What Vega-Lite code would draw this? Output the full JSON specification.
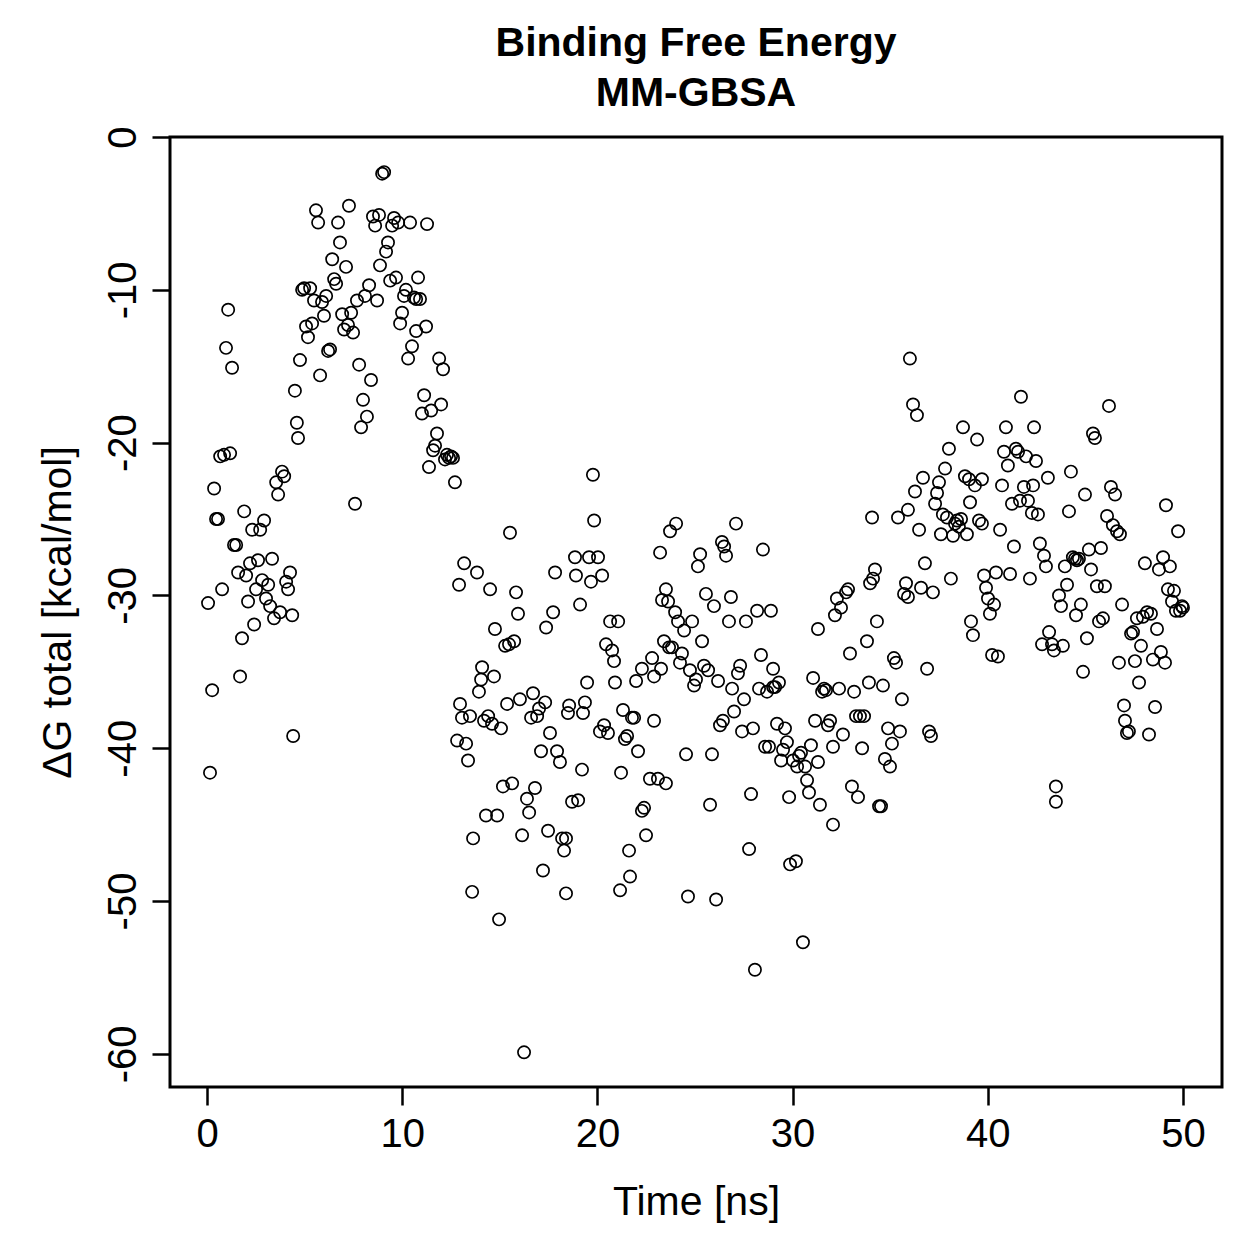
{
"$schema":"https://vega.github.io/schema/vega-lite/v6.json",
"width":1052,"height":950,
"autosize":{"type":"none"},
"padding":{"left":170,"top":137,"right":37,"bottom":172},
"background":"white",
"title":{"text":["Binding Free Energy","MM-GBSA"],"font":"Liberation Sans","fontSize":41,"fontWeight":"bold","color":"black","anchor":"middle","frame":"group","lineHeight":50,"offset":11},
"data":{"values":[
{"t":0.05,"g":-30.5},{"t":0.15,"g":-41.6},{"t":0.26,"g":-36.2},{"t":0.36,"g":-23.0},{"t":0.46,"g":-25.0},{"t":0.56,"g":-25.0},{"t":0.67,"g":-20.9},{"t":0.77,"g":-29.6},{"t":0.87,"g":-20.8},{"t":0.97,"g":-13.8},
{"t":1.08,"g":-11.3},{"t":1.18,"g":-20.7},{"t":1.28,"g":-15.1},{"t":1.38,"g":-26.7},{"t":1.49,"g":-26.7},{"t":1.59,"g":-28.5},{"t":1.69,"g":-35.3},{"t":1.79,"g":-32.8},{"t":1.90,"g":-24.5},{"t":2.00,"g":-28.7},
{"t":2.10,"g":-30.4},{"t":2.20,"g":-27.9},{"t":2.31,"g":-25.7},{"t":2.41,"g":-31.9},{"t":2.51,"g":-29.6},{"t":2.61,"g":-27.7},{"t":2.72,"g":-25.7},{"t":2.82,"g":-29.0},{"t":2.92,"g":-25.1},{"t":3.02,"g":-30.2},
{"t":3.13,"g":-29.3},{"t":3.23,"g":-30.7},{"t":3.33,"g":-27.6},{"t":3.43,"g":-31.5},{"t":3.54,"g":-22.6},{"t":3.64,"g":-23.4},{"t":3.74,"g":-31.1},{"t":3.84,"g":-21.9},{"t":3.95,"g":-22.2},{"t":4.05,"g":-29.1},
{"t":4.15,"g":-29.6},{"t":4.25,"g":-28.5},{"t":4.36,"g":-31.3},{"t":4.41,"g":-39.2},{"t":4.50,"g":-16.6},{"t":4.60,"g":-18.7},{"t":4.66,"g":-19.7},{"t":4.76,"g":-14.6},{"t":4.87,"g":-10.0},{"t":4.97,"g":-9.9},
{"t":5.07,"g":-12.4},{"t":5.17,"g":-13.1},{"t":5.28,"g":-9.9},{"t":5.38,"g":-12.2},{"t":5.48,"g":-10.7},{"t":5.58,"g":-4.8},{"t":5.69,"g":-5.6},{"t":5.79,"g":-15.6},{"t":5.89,"g":-10.8},{"t":5.99,"g":-11.7},
{"t":6.10,"g":-10.4},{"t":6.20,"g":-14.0},{"t":6.30,"g":-13.9},{"t":6.41,"g":-8.0},{"t":6.51,"g":-9.3},{"t":6.61,"g":-9.6},{"t":6.71,"g":-5.6},{"t":6.81,"g":-6.9},{"t":6.92,"g":-11.6},{"t":7.02,"g":-12.6},
{"t":7.12,"g":-8.5},{"t":7.22,"g":-12.3},{"t":7.27,"g":-4.5},{"t":7.38,"g":-11.5},{"t":7.48,"g":-12.8},{"t":7.58,"g":-24.0},{"t":7.68,"g":-10.7},{"t":7.79,"g":-14.9},{"t":7.89,"g":-19.0},{"t":7.99,"g":-17.2},
{"t":8.09,"g":-10.4},{"t":8.19,"g":-18.3},{"t":8.30,"g":-9.7},{"t":8.40,"g":-15.9},{"t":8.50,"g":-5.2},{"t":8.61,"g":-5.8},{"t":8.71,"g":-10.7},{"t":8.81,"g":-5.1},{"t":8.86,"g":-8.4},{"t":8.97,"g":-2.4},
{"t":9.07,"g":-2.3},{"t":9.17,"g":-7.5},{"t":9.27,"g":-6.9},{"t":9.38,"g":-9.4},{"t":9.48,"g":-5.8},{"t":9.58,"g":-5.3},{"t":9.68,"g":-9.2},{"t":9.79,"g":-5.6},{"t":9.89,"g":-12.2},{"t":9.99,"g":-11.5},
{"t":10.09,"g":-10.4},{"t":10.19,"g":-10.0},{"t":10.30,"g":-14.5},{"t":10.40,"g":-5.6},{"t":10.50,"g":-13.7},{"t":10.60,"g":-10.5},{"t":10.71,"g":-10.6},{"t":10.71,"g":-12.7},{"t":10.81,"g":-9.2},{"t":10.91,"g":-10.6},
{"t":11.01,"g":-18.1},{"t":11.12,"g":-16.9},{"t":11.22,"g":-12.4},{"t":11.27,"g":-5.7},{"t":11.37,"g":-21.6},{"t":11.48,"g":-17.9},{"t":11.58,"g":-20.5},{"t":11.68,"g":-20.2},{"t":11.78,"g":-19.4},{"t":11.89,"g":-14.5},
{"t":11.99,"g":-17.5},{"t":12.09,"g":-15.2},{"t":12.19,"g":-21.1},{"t":12.29,"g":-20.8},{"t":12.40,"g":-21.0},{"t":12.50,"g":-20.9},{"t":12.60,"g":-21.0},{"t":12.70,"g":-22.6},
{"t":12.81,"g":-39.5},{"t":12.91,"g":-29.3},{"t":12.96,"g":-37.1},{"t":13.06,"g":-38.0},{"t":13.17,"g":-27.9},{"t":13.27,"g":-39.7},{"t":13.37,"g":-40.8},{"t":13.63,"g":-45.9},{"t":13.58,"g":-49.4},{"t":13.47,"g":-37.9},
{"t":13.83,"g":-28.5},{"t":13.93,"g":-36.3},{"t":14.04,"g":-35.5},{"t":14.09,"g":-34.7},{"t":14.19,"g":-38.2},{"t":14.29,"g":-44.4},{"t":14.40,"g":-37.9},{"t":14.50,"g":-29.6},{"t":14.60,"g":-38.4},{"t":14.70,"g":-35.3},
{"t":14.75,"g":-32.2},{"t":14.86,"g":-44.4},{"t":14.96,"g":-51.2},{"t":15.06,"g":-38.7},{"t":15.16,"g":-42.5},{"t":15.27,"g":-33.3},{"t":15.47,"g":-33.2},{"t":15.37,"g":-37.1},{"t":15.52,"g":-25.9},{"t":15.63,"g":-42.3},
{"t":15.73,"g":-33.0},{"t":15.83,"g":-29.8},{"t":15.93,"g":-31.2},{"t":16.03,"g":-36.8},{"t":16.14,"g":-45.7},{"t":16.24,"g":-59.9},{"t":16.39,"g":-43.3},{"t":16.50,"g":-44.2},{"t":16.60,"g":-38.0},{"t":16.70,"g":-36.4},
{"t":16.80,"g":-42.6},{"t":16.91,"g":-37.9},{"t":17.01,"g":-37.4},{"t":17.11,"g":-40.2},{"t":17.21,"g":-48.0},{"t":17.32,"g":-37.0},{"t":17.37,"g":-32.1},{"t":17.47,"g":-45.4},{"t":17.57,"g":-39.0},{"t":17.73,"g":-31.1},
{"t":17.83,"g":-28.5},{"t":17.93,"g":-40.2},{"t":18.08,"g":-40.9},{"t":18.19,"g":-45.9},{"t":18.29,"g":-46.7},{"t":18.39,"g":-45.9},{"t":18.39,"g":-49.5},{"t":18.49,"g":-37.7},{"t":18.55,"g":-37.2},{"t":18.70,"g":-43.5},
{"t":18.85,"g":-27.5},{"t":18.90,"g":-28.7},{"t":19.01,"g":-43.4},{"t":19.11,"g":-30.6},{"t":19.26,"g":-37.7},{"t":19.36,"g":-37.0},{"t":19.47,"g":-35.7},{"t":19.21,"g":-41.4},{"t":19.67,"g":-29.1},{"t":19.77,"g":-22.1},
{"t":19.83,"g":-25.1},{"t":19.57,"g":-27.5},{"t":20.03,"g":-27.5},{"t":20.13,"g":-38.9},{"t":20.24,"g":-28.7},{"t":20.34,"g":-38.5},{"t":20.44,"g":-33.2},{"t":20.54,"g":-39.0},{"t":20.65,"g":-31.7},{"t":20.75,"g":-33.6},
{"t":20.85,"g":-34.3},{"t":20.90,"g":-35.7},{"t":21.06,"g":-31.7},{"t":21.21,"g":-41.6},{"t":21.16,"g":-49.3},{"t":21.31,"g":-37.5},{"t":21.41,"g":-39.4},{"t":21.52,"g":-39.2},{"t":21.62,"g":-46.7},{"t":21.67,"g":-48.4},
{"t":21.77,"g":-38.0},{"t":21.88,"g":-38.0},{"t":21.98,"g":-35.6},{"t":22.08,"g":-40.2},{"t":22.28,"g":-34.8},{"t":22.28,"g":-44.1},{"t":22.39,"g":-43.9},{"t":22.49,"g":-45.7},{"t":22.69,"g":-42.0},{"t":22.80,"g":-34.1},
{"t":22.90,"g":-35.3},{"t":22.90,"g":-38.2},{"t":23.10,"g":-42.0},{"t":23.26,"g":-34.8},{"t":23.51,"g":-42.3},{"t":23.21,"g":-27.2},{"t":23.31,"g":-30.3},{"t":23.41,"g":-33.0},{"t":23.51,"g":-29.6},{"t":23.62,"g":-30.4},
{"t":23.67,"g":-33.4},{"t":23.72,"g":-25.8},{"t":23.82,"g":-33.4},{"t":23.98,"g":-31.1},{"t":24.03,"g":-25.3},{"t":24.13,"g":-31.7},{"t":24.23,"g":-34.4},{"t":24.33,"g":-33.8},{"t":24.44,"g":-32.3},{"t":24.54,"g":-40.4},
{"t":24.64,"g":-49.7},{"t":24.74,"g":-34.9},{"t":24.85,"g":-31.7},{"t":24.95,"g":-35.9},{"t":25.05,"g":-35.5},{"t":25.15,"g":-28.1},{"t":25.26,"g":-27.3},{"t":25.36,"g":-33.0},{"t":25.46,"g":-34.6},{"t":25.56,"g":-29.9},
{"t":25.67,"g":-34.9},{"t":25.77,"g":-43.7},{"t":25.87,"g":-40.4},{"t":25.97,"g":-30.7},{"t":26.08,"g":-49.9},{"t":26.18,"g":-35.6},{"t":26.28,"g":-38.5},{"t":26.38,"g":-26.5},{"t":26.43,"g":-38.2},{"t":26.49,"g":-26.8},
{"t":26.59,"g":-27.4},{"t":26.74,"g":-31.7},{"t":26.84,"g":-30.1},{"t":26.90,"g":-36.1},{"t":27.00,"g":-37.6},{"t":27.10,"g":-25.3},{"t":27.20,"g":-35.1},{"t":27.31,"g":-34.6},{"t":27.41,"g":-38.9},{"t":27.51,"g":-36.8},
{"t":27.61,"g":-31.7},{"t":27.77,"g":-46.6},{"t":27.87,"g":-43.0},{"t":27.97,"g":-38.7},{"t":28.07,"g":-54.5},{"t":28.18,"g":-31.0},{"t":28.28,"g":-36.1},{"t":28.38,"g":-33.9},{"t":28.48,"g":-27.0},{"t":28.59,"g":-39.9},
{"t":28.69,"g":-36.3},{"t":28.79,"g":-39.9},{"t":28.89,"g":-31.0},{"t":29.00,"g":-34.8},{"t":29.00,"g":-36.0},{"t":29.10,"g":-36.0},{"t":29.20,"g":-38.4},{"t":29.30,"g":-35.7},{"t":29.41,"g":-40.8},{"t":29.51,"g":-40.1},
{"t":29.61,"g":-38.7},{"t":29.71,"g":-39.6},{"t":29.82,"g":-43.2},{"t":29.87,"g":-47.6},{"t":30.02,"g":-40.8},{"t":30.17,"g":-47.4},{"t":30.23,"g":-41.2},{"t":30.33,"g":-40.5},{"t":30.43,"g":-40.3},{"t":30.53,"g":-52.7},
{"t":30.64,"g":-41.2},{"t":30.74,"g":-42.1},{"t":30.84,"g":-42.9},{"t":30.94,"g":-39.8},{"t":31.05,"g":-35.4},{"t":31.15,"g":-38.2},{"t":31.30,"g":-32.2},{"t":31.30,"g":-40.9},{"t":31.40,"g":-43.7},{"t":31.51,"g":-36.3},
{"t":31.61,"g":-36.1},{"t":31.71,"g":-36.2},{"t":31.81,"g":-38.5},{"t":31.92,"g":-38.2},{"t":32.07,"g":-45.0},{"t":32.07,"g":-39.9},{"t":32.17,"g":-31.3},{"t":32.27,"g":-30.2},{"t":32.38,"g":-36.1},{"t":32.48,"g":-30.8},
{"t":32.58,"g":-39.1},{"t":32.74,"g":-29.8},{"t":32.84,"g":-29.6},{"t":32.94,"g":-33.8},{"t":33.04,"g":-42.5},{"t":33.15,"g":-36.3},{"t":33.25,"g":-37.9},{"t":33.35,"g":-43.2},{"t":33.45,"g":-37.9},{"t":33.56,"g":-40.0},
{"t":33.66,"g":-37.9},{"t":33.81,"g":-33.0},{"t":33.91,"g":-35.7},{"t":33.97,"g":-29.2},{"t":34.07,"g":-24.9},{"t":34.12,"g":-28.9},{"t":34.22,"g":-28.3},{"t":34.32,"g":-31.7},{"t":34.43,"g":-43.8},{"t":34.53,"g":-43.8},
{"t":34.63,"g":-35.9},{"t":34.73,"g":-40.7},{"t":34.89,"g":-38.7},{"t":34.99,"g":-41.2},{"t":35.09,"g":-39.7},{"t":35.19,"g":-34.1},{"t":35.30,"g":-34.4},{"t":35.40,"g":-24.9},{"t":35.50,"g":-38.9},{"t":35.60,"g":-36.8},
{"t":35.71,"g":-29.9},{"t":35.81,"g":-29.2},{"t":35.91,"g":-30.1},{"t":35.91,"g":-24.4},{"t":36.01,"g":-14.5},{"t":36.17,"g":-17.5},{"t":36.27,"g":-23.2},{"t":36.37,"g":-18.2},{"t":36.48,"g":-25.7},{"t":36.58,"g":-29.5},
{"t":36.68,"g":-22.3},{"t":36.78,"g":-27.9},{"t":36.89,"g":-34.8},{"t":36.99,"g":-38.9},{"t":37.09,"g":-39.2},{"t":37.19,"g":-29.8},{"t":37.30,"g":-24.0},{"t":37.40,"g":-23.3},{"t":37.50,"g":-22.6},{"t":37.60,"g":-26.0},
{"t":37.70,"g":-24.7},{"t":37.81,"g":-21.7},{"t":37.91,"g":-24.9},{"t":38.01,"g":-20.4},{"t":38.11,"g":-28.9},{"t":38.22,"g":-26.1},{"t":38.32,"g":-25.3},{"t":38.42,"g":-25.1},{"t":38.52,"g":-25.5},{"t":38.63,"g":-25.0},
{"t":38.73,"g":-19.0},{"t":38.83,"g":-22.2},{"t":38.93,"g":-26.0},{"t":39.04,"g":-22.4},{"t":39.09,"g":-23.9},{"t":39.14,"g":-31.7},{"t":39.24,"g":-32.6},{"t":39.34,"g":-22.8},{"t":39.45,"g":-19.8},{"t":39.55,"g":-25.1},
{"t":39.70,"g":-25.3},{"t":39.70,"g":-22.4},{"t":39.81,"g":-28.7},{"t":39.91,"g":-29.5},{"t":40.01,"g":-30.2},{"t":40.11,"g":-31.2},{"t":40.22,"g":-33.9},{"t":40.32,"g":-30.6},{"t":40.42,"g":-28.5},{"t":40.52,"g":-34.0},
{"t":40.63,"g":-25.7},{"t":40.73,"g":-22.8},{"t":40.83,"g":-20.6},{"t":40.93,"g":-19.0},{"t":41.03,"g":-21.5},{"t":41.14,"g":-28.6},{"t":41.24,"g":-24.0},{"t":41.34,"g":-26.8},{"t":41.44,"g":-20.4},{"t":41.55,"g":-20.6},
{"t":41.65,"g":-23.8},{"t":41.70,"g":-17.0},{"t":41.85,"g":-22.9},{"t":41.96,"g":-20.9},{"t":42.06,"g":-23.8},{"t":42.16,"g":-28.9},{"t":42.26,"g":-24.6},{"t":42.32,"g":-22.8},{"t":42.37,"g":-19.0},{"t":42.47,"g":-21.2},
{"t":42.57,"g":-24.7},{"t":42.67,"g":-26.6},{"t":42.78,"g":-33.2},{"t":42.88,"g":-27.4},{"t":42.98,"g":-28.1},{"t":43.08,"g":-22.3},{"t":43.14,"g":-32.4},{"t":43.29,"g":-33.2},{"t":43.39,"g":-33.6},{"t":43.49,"g":-42.5},
{"t":43.49,"g":-43.5},{"t":43.65,"g":-30.0},{"t":43.75,"g":-30.7},{"t":43.85,"g":-33.3},{"t":43.95,"g":-28.1},{"t":44.06,"g":-29.3},{"t":44.16,"g":-24.5},{"t":44.26,"g":-21.9},{"t":44.36,"g":-27.5},{"t":44.47,"g":-27.6},
{"t":44.52,"g":-31.3},{"t":44.57,"g":-27.7},{"t":44.67,"g":-27.6},{"t":44.77,"g":-30.6},{"t":44.88,"g":-35.0},{"t":44.98,"g":-23.4},{"t":45.08,"g":-32.8},{"t":45.18,"g":-27.0},{"t":45.29,"g":-28.3},{"t":45.39,"g":-19.4},
{"t":45.49,"g":-19.7},{"t":45.59,"g":-29.4},{"t":45.70,"g":-31.7},{"t":45.80,"g":-26.9},{"t":45.90,"g":-31.5},{"t":46.00,"g":-29.4},{"t":46.11,"g":-24.8},{"t":46.21,"g":-17.6},{"t":46.31,"g":-22.9},{"t":46.41,"g":-25.4},
{"t":46.52,"g":-23.4},{"t":46.62,"g":-25.8},{"t":46.72,"g":-34.4},{"t":46.77,"g":-26.0},{"t":46.88,"g":-30.6},{"t":46.98,"g":-37.2},{"t":47.03,"g":-38.2},{"t":47.13,"g":-39.0},{"t":47.23,"g":-38.9},{"t":47.34,"g":-32.5},
{"t":47.44,"g":-32.4},{"t":47.54,"g":-34.3},{"t":47.64,"g":-31.5},{"t":47.75,"g":-35.7},{"t":47.85,"g":-33.3},{"t":47.95,"g":-31.4},{"t":48.05,"g":-27.9},{"t":48.16,"g":-31.1},{"t":48.26,"g":-39.1},{"t":48.36,"g":-31.2},
{"t":48.46,"g":-34.2},{"t":48.57,"g":-37.3},{"t":48.67,"g":-32.2},{"t":48.77,"g":-28.3},{"t":48.87,"g":-33.7},{"t":48.98,"g":-27.5},{"t":49.08,"g":-34.4},{"t":49.13,"g":-24.1},{"t":49.23,"g":-29.6},{"t":49.33,"g":-28.1},
{"t":49.44,"g":-30.4},{"t":49.54,"g":-29.7},{"t":49.64,"g":-31.0},{"t":49.75,"g":-25.8},{"t":49.85,"g":-31.0},{"t":49.95,"g":-30.7},{"t":50.0,"g":-30.8}
]},
"mark":{"type":"point","shape":"circle","filled":false,"stroke":"black","strokeWidth":1.7,"size":150,"opacity":1},
"encoding":{
"x":{"field":"t","type":"quantitative","scale":{"domain":[-1.9,52.0],"nice":false,"zero":false},
"axis":{"values":[0,10,20,30,40,50],"domain":false,"grid":false,"tickSize":18,"tickWidth":2.5,"tickColor":"black","labelFont":"Liberation Sans","labelFontSize":40,"labelColor":"black","labelPadding":9,"labelFlush":false,"labelOverlap":false,"title":"Time [ns]","titleFont":"Liberation Sans","titleFontSize":41,"titleFontWeight":"normal","titleColor":"black","titleX":526,"titleY":127,"titleAlign":"center","titleBaseline":"alphabetic"}},
"y":{"field":"g","type":"quantitative","scale":{"domain":[-62.17,0],"nice":false,"zero":false},
"axis":{"values":[-60,-50,-40,-30,-20,-10,0],"labelExpr":"datum.value < 0 ? '-' + abs(datum.value) : '' + datum.value","domain":false,"grid":false,"tickSize":18,"tickWidth":2.5,"tickColor":"black","labelFont":"Liberation Sans","labelFontSize":40,"labelColor":"black","labelAngle":-90,"labelAlign":"center","labelBaseline":"alphabetic","labelPadding":17,"labelFlush":false,"labelOverlap":false,"title":"ΔG total [kcal/mol]","titleFont":"Liberation Sans","titleFontSize":41,"titleFontWeight":"normal","titleColor":"black","titleX":-100,"titleY":475,"titleAngle":-90,"titleAlign":"center","titleBaseline":"alphabetic"}}
},
"config":{"view":{"stroke":"black","strokeWidth":3},"axis":{"labelLimit":0}}
}
